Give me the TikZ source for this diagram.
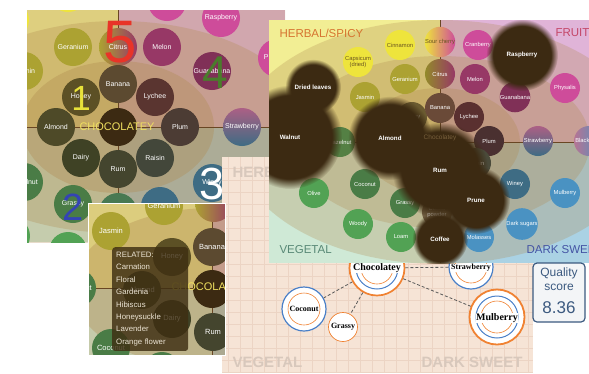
\documentclass[tikz,border=0pt]{standalone}
\usepackage{fontspec}
\setmainfont{Liberation Sans}
\newfontfamily\slabfont{Liberation Serif}
\usetikzlibrary{fadings}

\definecolor{herbq}{HTML}{F2EE94}
\definecolor{fruitq}{HTML}{E0B4D8}
\definecolor{vegq}{HTML}{CFE9D6}
\definecolor{darkq}{HTML}{AAD2E4}
\definecolor{band}{HTML}{B08A50}
\definecolor{choc}{HTML}{3C2A12}
\definecolor{olv}{HTML}{ACA232}
\definecolor{yel}{HTML}{EEE43C}
\definecolor{pnk}{HTML}{CE4C9A}
\definecolor{mag}{HTML}{973866}
\definecolor{grn}{HTML}{52A254}
\definecolor{dgrn}{HTML}{4A7C46}
\definecolor{tealc}{HTML}{3E6C84}
\definecolor{sky}{HTML}{4A92C2}
\definecolor{dtext}{HTML}{6A5520}
\definecolor{chocy}{HTML}{F0E060}
\definecolor{paper}{HTML}{F6E4D6}
\definecolor{gridc}{HTML}{ECD4C4}
\definecolor{faint}{HTML}{D8C8BC}
\definecolor{ring}{HTML}{F08232}
\definecolor{ringb}{HTML}{4A80C8}
\definecolor{navy}{HTML}{3C5A80}
\definecolor{tipc}{HTML}{3E2E12}

\begin{document}
\begin{tikzpicture}[x=1pt, y=-1pt,
    flavA/.style={circle, minimum size=38pt, inner sep=0pt, text=white, font=\fontsize{7}{8}\selectfont},
    flavB/.style={flavA, font=\fontsize{7.5}{8}\selectfont},
    flavD/.style={circle, minimum size=30pt, inner sep=0pt, text=white, align=center, font=\fontsize{5.8}{6.2}\selectfont},
    blob/.style={fill=choc, path fading=circle with fuzzy edge 20 percent},
    bloblabel/.style={text=white, font=\bfseries\fontsize{6.2}{7}\selectfont},
    bignum/.style={font=\fontsize{#1}{#1}\selectfont},
    axisline/.style={draw=black!45!brown, line width=.5pt},
    quadlabel/.style={anchor=west, font=\fontsize{11.5}{12}\selectfont},
    wmark/.style={text=faint, font=\bfseries\fontsize{15}{15}\selectfont},
    ringnode/.style={circle, fill=white, inner sep=0pt},
    tagC/.style={fill=white, inner sep=.6pt, font=\slabfont\bfseries\fontsize{#1}{#1}\selectfont},
    link/.style={densely dashed, line width=.8pt, black!65}]
  \useasboundingbox (0,0) rectangle (589,373);
  \fill[white] (0,0) rectangle (589,373);

  % panel A: zoomed wheel with numbers
  \begin{scope}
    \clip (27,10) rectangle (285,242);
    \fill[herbq] (27,10) rectangle (118,127);
    \fill[fruitq] (118,10) rectangle (285,127);
    \fill[vegq] (27,127) rectangle (118,242);
    \fill[darkq] (118,127) rectangle (285,242);
    \fill[band, opacity=.3] (118,127) ellipse (262pt and 156pt);
    \fill[band, opacity=.3] (118,127) ellipse (190pt and 106pt);
    \fill[band, opacity=.35] (118,127) ellipse (96pt and 66pt);
    \draw[axisline] (27,127) -- (285,127) (118,10) -- (118,242);
    \node[flavA, fill=yel] (cinnA) at (10,20) {Cinnamon};
    \node[flavA, fill=yel] (yelA) at (68,-7) {};
    \node[flavA, left color=yel, right color=pnk] (sourA) at (118,-9) {};
    \node[flavA, fill=pnk] (cranA) at (167,2) {};
    \node[flavA, fill=pnk] (raspA) at (221,18) {Raspberry};
    \node[flavA, fill=pnk] (physA) at (277,58) {Physalis};
    \node[flavA, fill=olv] (jasmA) at (24,71) {Jasmin};
    \node[flavA, fill=olv] (geraA) at (73,47) {Geranium};
    \node[flavA, left color=olv, right color=mag] (citrA) at (118,47) {Citrus};
    \node[flavA, fill=mag] (meloA) at (162,47) {Melon};
    \node[flavA, fill=mag!85!black] (guanA) at (212,71) {Guanabana};
    \node[flavA, fill={rgb,255:red,92;green,80;blue,37}] (honeA) at (81,97) {Honey};
    \node[flavA, fill={rgb,255:red,92;green,74;blue,48}] (banaA) at (118,84) {Banana};
    \node[flavA, fill={rgb,255:red,90;green,53;blue,48}] (lychA) at (155,97) {Lychee};
    \node[flavA, fill={rgb,255:red,78;green,74;blue,40}] (almoA) at (56,127) {Almond};
    \node[flavA, fill=choc] (centA) at (118,127) {};
    \node[flavA, fill={rgb,255:red,76;green,60;blue,52}] (plumA) at (180,127) {Plum};
    \node[flavA, fill={rgb,255:red,63;green,66;blue,37}] (dairA) at (81,158) {Dairy};
    \node[flavA, fill={rgb,255:red,68;green,69;blue,46}] (rumA) at (118,169) {Rum};
    \node[flavA, fill={rgb,255:red,67;green,71;blue,58}] (raisA) at (155,158) {Raisin};
    \node[flavA, top color=mag!80!white, bottom color=tealc] (strwA) at (242,127) {Strawberry};
    \node[flavA, fill=dgrn] (hazeA) at (24,182) {Hazelnut};
    \node[flavA, fill=dgrn] (grasA) at (73,204) {Grassy};
    \node[flavA, fill=dgrn!80!tealc] (cocoA) at (118,212) {};
    \node[flavA, fill=tealc] (molaA) at (160,206) {};
    \node[flavA, fill=tealc] (wineA) at (212,183) {Winey};
    \node[flavA, fill=grn] (olivA) at (11,236) {};
    \node[flavA, fill=grn] (woodA) at (68,251) {};
    \node[text=chocy, font=\fontsize{11}{11}\selectfont] (chocA) at (117,127) {CHOCOLATEY};
    \node[bignum=60, text={rgb,255:red,232;green,52;blue,40}] (fiveA) at (120,42) {5};
    \node[bignum=46, text={rgb,255:red,74;green,124;blue,44}] (fourA) at (215,73) {4};
    \node[bignum=35, text={rgb,255:red,232;green,226;blue,58}] (oneA) at (81,98) {1};
    \node[bignum=38, text={rgb,255:red,52;green,68;blue,180}] (twoA) at (73,207) {2};
    \node[bignum=45, text=white] (threeA) at (212,184) {3};
  \end{scope}

  % panel C: linked flavours
  \begin{scope}
    \clip (222,157) rectangle (533,373);
    \fill[paper] (222,157) rectangle (533,373);
    \draw[gridc, line width=.5pt, step=12pt] (222,157) grid (533,373);
    \node[wmark, anchor=west] (herbC) at (229,172) {HERBAL/SPICY};
    \node[wmark, anchor=west] (vegC) at (229,362) {VEGETAL};
    \node[wmark, anchor=east] (darkC) at (526,362) {DARK SWEET};
    \node[ringnode, draw=ring, line width=1.7pt, minimum size=55pt] (chocC) at (377,268) {};
    \draw[ringb, line width=1pt] (chocC.center) circle (21pt);
    \draw[ring, line width=.6pt] (chocC.center) circle (16pt);
    \node[tagC=10] (chocT) at (377,268) {Chocolatey};
    \node[ringnode, draw=ringb, line width=1.2pt, minimum size=44pt] (strwC) at (471,267) {};
    \draw[ring, line width=.6pt] (strwC.center) circle (16pt);
    \node[tagC=8] (strwT) at (471,268) {Strawberry};
    \node[ringnode, draw=ringb, line width=1.2pt, minimum size=44pt] (cocoC) at (304,309) {};
    \draw[ring, line width=.6pt] (cocoC.center) circle (16pt);
    \node[tagC=8] (cocoT) at (304,309) {Coconut};
    \node[ringnode, draw=ring, line width=.7pt, minimum size=29pt] (grasC) at (343,327) {};
    \node[tagC=8] (grasT) at (343,327) {Grassy};
    \node[ringnode, draw=ring, line width=1.8pt, minimum size=55pt] (mulbC) at (497,317) {};
    \draw[ringb, line width=1pt] (mulbC.center) circle (21pt);
    \draw[ring, line width=.6pt] (mulbC.center) circle (16pt);
    \node[tagC=10] (mulbT) at (497,318) {Mulberry};
    \draw[link] (chocC) -- (strwC);
    \draw[link] (chocC) -- (cocoC);
    \draw[link] (chocC) -- (grasC);
    \draw[link] (chocC) -- (mulbC);
  \end{scope}

  % panel B: tooltip close-up
  \begin{scope}
    \clip (88,203) rectangle (225,355);
    \fill[herbq] (88,203) rectangle (212,288);
    \fill[fruitq] (212,203) rectangle (225,288);
    \fill[vegq] (88,288) rectangle (212,355);
    \fill[darkq] (212,288) rectangle (225,355);
    \fill[band, opacity=.32] (212,288) ellipse (262pt and 156pt);
    \fill[band, opacity=.35] (212,288) ellipse (140pt and 80pt);
    \draw[axisline] (88,288) -- (225,288) (212,203) -- (212,355);
    \node[flavB, left color=olv, right color=mag] (citrB) at (214,203) {};
    \node[flavB, fill=olv] (geraB) at (164,206) {Geranium};
    \node[flavB, fill=olv] (jasmB) at (111,231) {Jasmin};
    \node[flavB, fill={rgb,255:red,92;green,74;blue,48}] (banaB) at (212,247) {Banana};
    \node[flavB, fill={rgb,255:red,92;green,80;blue,37}] (honeB) at (172,257) {Honey};
    \node[flavB, fill=dgrn] (hazeB) at (77,288) {Hazelnut};
    \node[flavB, fill={rgb,255:red,78;green,74;blue,40}] (almoB) at (142,290) {Almond};
    \node[flavB, fill=choc] (centB) at (212,289) {};
    \node[flavB, fill={rgb,255:red,63;green,66;blue,37}] (dairB) at (172,319) {Dairy};
    \node[flavB, fill={rgb,255:red,68;green,69;blue,46}] (rumB) at (213,332) {Rum};
    \node[flavB, fill=dgrn] (cocoB) at (111,348) {Coconut};
    \node[flavB, fill=dgrn] (grasB) at (162,371) {};
    \node[text=chocy, font=\fontsize{11}{11}\selectfont] (chocB) at (209,287) {CHOCOLATEY};
    \node[anchor=north west, fill=tipc, fill opacity=.82, text opacity=1, text={rgb,255:red,236;green,228;blue,212},
      rounded corners=3pt, inner xsep=4pt, inner ysep=5pt, text width=68pt, align=left,
      font=\fontsize{7.8}{12.4}\selectfont] (tipB) at (112,247)
      {RELATED:\\Carnation\\Floral\\Gardenia\\Hibiscus\\Honeysuckle\\Lavender\\Orange flower};
  \end{scope}
  \draw[white, line width=1pt] (88,203) rectangle (225,355);

  % panel D: heat map of the wheel
  \begin{scope}
    \clip (269,20) rectangle (589,263);
    \fill[herbq] (269,20) rectangle (440,142);
    \fill[fruitq] (440,20) rectangle (589,142);
    \fill[vegq] (269,142) rectangle (440,263);
    \fill[darkq] (440,142) rectangle (589,263);
    \fill[band, opacity=.28] (440,142) ellipse (205pt and 122pt);
    \fill[band, opacity=.28] (440,142) ellipse (150pt and 86pt);
    \fill[band, opacity=.3] (440,142) ellipse (80pt and 54pt);
    \draw[axisline] (269,142) -- (589,142) (440,20) -- (440,263);
    \node[flavD, fill=yel, text=dtext] (cinnD) at (400,45) {Cinnamon};
    \node[flavD, left color=yel, right color=pnk, text=dtext] (sourD) at (440,42) {Sour cherry};
    \node[flavD, fill=pnk] (cranD) at (478,45) {Cranberry};
    \node[flavD, fill=yel, text=dtext] (capsD) at (358,62) {Capsicum\\(dried)};
    \node[flavD, fill=olv] (geraD) at (405,79) {Geranium};
    \node[flavD, left color=olv!85!black, right color=mag] (citrD) at (440,74) {Citrus};
    \node[flavD, fill=mag] (meloD) at (475,79) {Melon};
    \node[flavD, fill=pnk] (physD) at (565,88) {Physalis};
    \node[flavD, fill=mag!85!black] (guanD) at (515,97) {Guanabana};
    \node[flavD, fill=olv] (jasmD) at (365,97) {Jasmin};
    \node[flavD, fill={rgb,255:red,106;green,90;blue,48}] (honeD) at (412,117) {Honey};
    \node[flavD, fill={rgb,255:red,106;green,74;blue,56}] (banaD) at (440,108) {Banana};
    \node[flavD, fill={rgb,255:red,90;green,48;blue,48}] (lychD) at (469,117) {Lychee};
    \node[flavD, fill=dgrn!90!olv] (hazeD) at (340,142) {Hazelnut};
    \node[flavD, fill={rgb,255:red,74;green,48;blue,48}] (plumD) at (489,141) {Plum};
    \node[flavD, top color=mag!80!white, bottom color=tealc] (strwD) at (538,141) {Strawberry};
    \node[flavD, left color=mag!70!white, right color=sky] (blakD) at (589,141) {Blackberry};
    \node[flavD, fill={rgb,255:red,74;green,74;blue,58}] (raisD) at (476,163) {Raisin};
    \node[flavD, fill=dgrn] (cocoD) at (365,184) {Coconut};
    \node[flavD, fill=tealc] (wineD) at (515,184) {Winey};
    \node[flavD, fill=grn] (olivD) at (314,193) {Olive};
    \node[flavD, fill=sky] (mulbD) at (565,193) {Mulberry};
    \node[flavD, fill=dgrn] (grasD) at (405,203) {Grassy};
    \node[flavD, fill={rgb,255:red,110;green,92;blue,64}] (cpowD) at (437,212) {Cocoa\\powder};
    \node[flavD, fill=grn] (woodD) at (358,224) {Woody};
    \node[flavD, fill=sky] (dsugD) at (522,224) {Dark sugars};
    \node[flavD, fill=grn] (loamD) at (401,237) {Loam};
    \node[flavD, fill=sky] (molaD) at (479,237) {Molasses};
    \fill[blob] (522,55) circle (36pt);
    \fill[blob] (313,87) circle (28pt);
    \fill[blob] (290,137) circle (52pt);
    \fill[blob] (390,138) circle (42pt);
    \fill[blob] (440,170) circle (48pt);
    \fill[blob] (476,200) circle (34pt);
    \fill[blob] (440,239) circle (28pt);
    \node[text={rgb,255:red,120;green,96;blue,60}, font=\fontsize{6.5}{7}\selectfont] (chocD) at (440,138) {Chocolatey};
    \node[bloblabel] (raspD) at (522,55) {Raspberry};
    \node[bloblabel] (drieD) at (313,87) {Dried leaves};
    \node[bloblabel] (walnD) at (290,137) {Walnut};
    \node[bloblabel] (almoD) at (390,138) {Almond};
    \node[bloblabel] (rumD) at (440,170) {Rum};
    \node[bloblabel] (pruneD) at (476,200) {Prune};
    \node[bloblabel] (coffD) at (440,239) {Coffee};
    \node[quadlabel, text={rgb,255:red,214;green,116;blue,48}] (herbD) at (276,33) {HERBAL/SPICY};
    \node[quadlabel, text={rgb,255:red,196;green,70;blue,104}] (fruiD) at (552,33) {FRUITY};
    \node[quadlabel, text={rgb,255:red,88;green,136;blue,118}] (vegD) at (276,250) {VEGETAL};
    \node[quadlabel, text={rgb,255:red,68;green,84;blue,164}] (darkD) at (523,250) {DARK SWEET};
  \end{scope}

  % quality score
  \node[draw=navy, line width=1.2pt, fill=navy!6, rounded corners=4pt, minimum width=52pt, minimum height=59pt] (qbox) at (559,292.5) {};
  \node[text=navy, font=\fontsize{12}{12}\selectfont] (qlab) at (559,273) {Quality};
  \node[text=navy, font=\fontsize{12}{12}\selectfont] (qsub) at (559,287) {score};
  \node[text=navy, font=\fontsize{17}{17}\selectfont] (qval) at (559,308) {8.36};
\end{tikzpicture}
\end{document}
